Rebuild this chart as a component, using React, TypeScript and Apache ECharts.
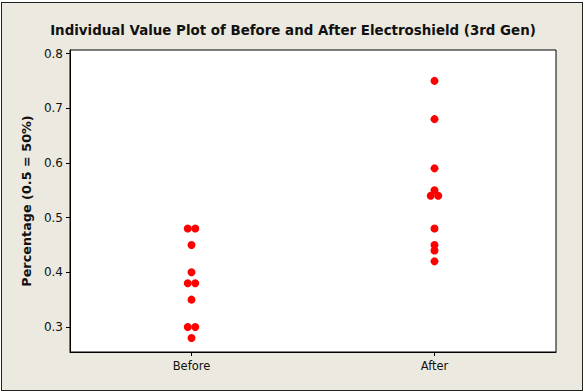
import React, { useEffect, useRef } from "react";
import * as echarts from "echarts";

const categories = ["Before", "After"];
const beforeValues = [0.48, 0.48, 0.45, 0.4, 0.38, 0.38, 0.35, 0.3, 0.3, 0.28];
const afterValues = [0.75, 0.68, 0.59, 0.55, 0.54, 0.54, 0.48, 0.45, 0.44, 0.42];
const yTicks = [0.3, 0.4, 0.5, 0.6, 0.7, 0.8];
const titleText = "Individual Value Plot of Before and After Electroshield (3rd Gen)";
const yAxisName = "Percentage (0.5 = 50%)";

const FONT = "'DejaVu Sans', Verdana, sans-serif";
const DOT = 8;
const SPACING = 7.5;

function dodge(catIndex: number, values: number[]) {
  const counts: Record<string, number> = {};
  values.forEach((v) => {
    counts[String(v)] = (counts[String(v)] || 0) + 1;
  });
  const seen: Record<string, number> = {};
  return values.map((v) => {
    const k = String(v);
    const n = counts[k];
    const i = seen[k] || 0;
    seen[k] = i + 1;
    return {
      value: [catIndex, v],
      symbolOffset: [(i - (n - 1) / 2) * SPACING, 0],
    };
  });
}

export default function App() {
  const ref = useRef<HTMLDivElement>(null);
  useEffect(() => {
    if (!ref.current) return;
    const chart = echarts.init(ref.current, undefined, { renderer: "svg" });
    chart.setOption({
      animation: false,
      backgroundColor: "transparent",
      title: {
        text: titleText,
        left: "center",
        top: 19,
        textStyle: { fontFamily: FONT, fontSize: 13.4, fontWeight: "bold", color: "#111" },
      },
      grid: {
        left: 70,
        right: 30,
        top: 50,
        bottom: 40,
        show: true,
        backgroundColor: "#ffffff",
        borderColor: "#000",
        borderWidth: 1,
      },
      xAxis: {
        type: "category",
        data: categories,
        boundaryGap: true,
        axisLine: { show: true, lineStyle: { color: "#000", width: 1 } },
        axisTick: { show: true, alignWithLabel: true, length: 4, lineStyle: { color: "#000" } },
        axisLabel: { fontFamily: FONT, fontSize: 11.5, color: "#111", margin: 8 },
        splitLine: { show: false },
      },
      yAxis: {
        type: "value",
        min: 0.2543,
        max: 0.8064,
        name: yAxisName,
        nameLocation: "middle",
        nameGap: 33,
        nameTextStyle: { fontFamily: FONT, fontSize: 12.8, fontWeight: "bold", color: "#111" },
        axisLine: { show: true, lineStyle: { color: "#000", width: 1 } },
        axisTick: { show: true, length: 4, customValues: yTicks, lineStyle: { color: "#000" } },
        axisLabel: {
          fontFamily: FONT,
          fontSize: 12,
          color: "#111",
          margin: 7,
          customValues: yTicks,
          formatter: (v: number) => v.toFixed(1),
        },
        splitLine: { show: false },
      },
      series: [
        {
          type: "scatter",
          symbol: "circle",
          symbolSize: DOT,
          itemStyle: { color: "#ff0000", opacity: 1 },
          data: [...dodge(0, beforeValues), ...dodge(1, afterValues)],
        },
      ],
    });
    return () => chart.dispose();
  }, []);
  return (
    <div style={{ position: "absolute", left: 0, top: 0, width: 586, height: 392, background: "#fff" }}>
      <div
        style={{
          position: "absolute",
          left: 1,
          top: 2,
          width: 582,
          height: 389,
          boxSizing: "border-box",
          border: "1px solid #222",
          background: "#ECE9E0",
        }}
      />
      <div ref={ref} style={{ position: "absolute", left: 0, top: 0, width: 586, height: 392 }} />
    </div>
  );
}
